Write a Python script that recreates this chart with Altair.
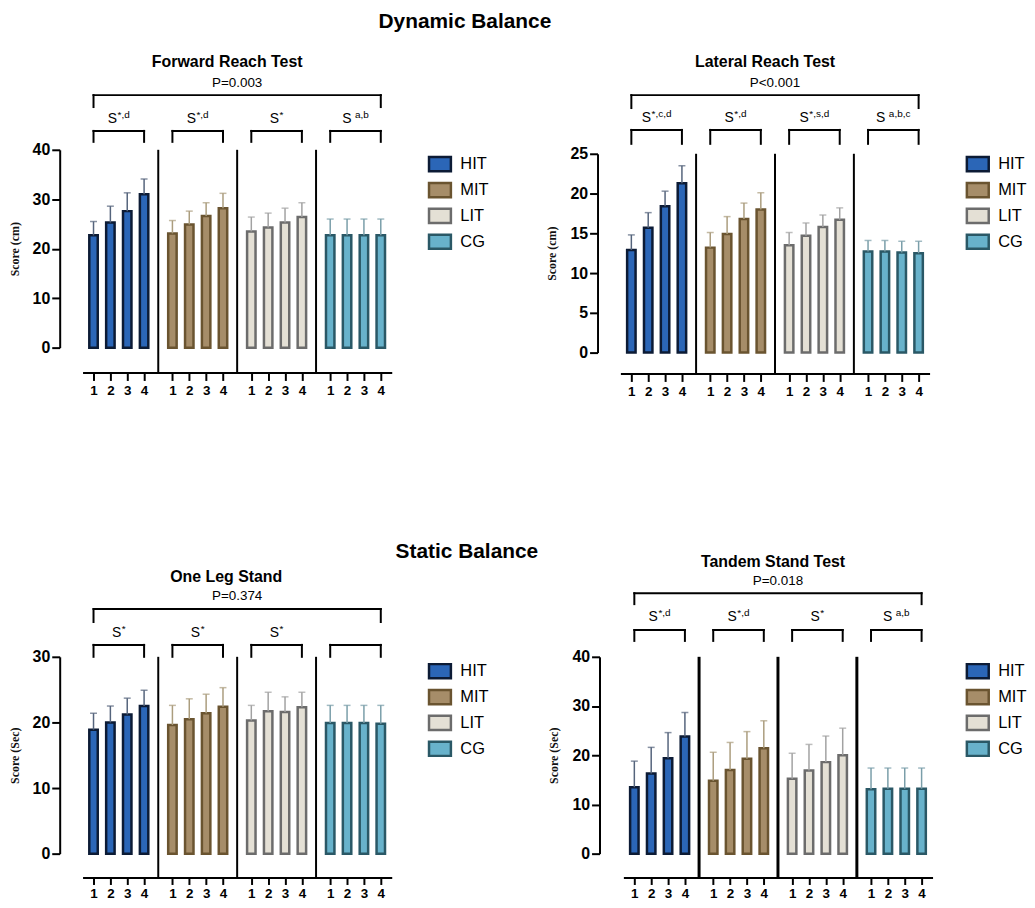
import altair as alt
import pandas as pd

GROUPS = ["HIT", "MIT", "LIT", "CG"]
TIMES = ["1", "2", "3", "4"]
FILL_COLORS = ["#2b66b7", "#a68d69", "#e4e0d5", "#68b2cb"]
STROKE_COLORS = ["#0c1b35", "#6a5430", "#6c6c6c", "#2a5866"]
ERR_COLORS = ["#55647c", "#ab9d7e", "#a2a2a2", "#7a9ea9"]

HEADINGS = ["Dynamic Balance", "Static Balance"]
TITLES = ["Forward Reach Test", "Lateral Reach Test", "One Leg Stand", "Tandem Stand Test"]
P_TEXTS = ["P=0.003", "P<0.001", "P=0.374", "P=0.018"]
Y_TITLES = ["Score (cm)", "Score (cm)", "Score (Sec)", "Score (Sec)"]
Y_MAX = [40, 25, 30, 40]
Y_STEP = [10, 5, 10, 10]

# superscripts of the "S" labels above each group (None = no label)
FRT_SUP = ["*,d", "*,d", "*", "a,b"]
LRT_SUP = ["*,c,d", "*,d", "*,s,d", "a,b,c"]
OLS_SUP = ["*", "*", "*", None]
TST_SUP = ["*,d", "*,d", "*", "a,b"]

# means (rows: HIT, MIT, LIT, CG; columns: times 1-4) and upper whisker ends
FRT_MEAN = [[22.7, 25.3, 27.6, 31.0], [23.1, 24.9, 26.6, 28.2],
            [23.5, 24.3, 25.3, 26.4], [22.7, 22.7, 22.7, 22.7]]
FRT_UPPER = [[25.5, 28.6, 31.3, 34.1], [25.7, 27.6, 29.3, 31.2],
             [26.4, 27.2, 28.2, 29.3], [26.0, 26.0, 26.0, 26.0]]
LRT_MEAN = [[12.9, 15.7, 18.4, 21.3], [13.2, 14.9, 16.8, 18.0],
            [13.5, 14.7, 15.8, 16.7], [12.7, 12.7, 12.6, 12.5]]
LRT_UPPER = [[14.8, 17.6, 20.3, 23.5], [15.1, 17.1, 18.8, 20.1],
             [15.1, 16.3, 17.3, 18.2], [14.1, 14.1, 14.0, 14.0]]
OLS_MEAN = [[18.9, 20.0, 21.2, 22.5], [19.6, 20.5, 21.4, 22.4],
            [20.3, 21.7, 21.6, 22.3], [19.9, 19.9, 19.9, 19.8]]
OLS_UPPER = [[21.4, 22.5, 23.7, 24.9], [22.6, 23.6, 24.3, 25.3],
             [22.6, 24.6, 23.9, 24.6], [22.6, 22.6, 22.6, 22.6]]
TST_MEAN = [[13.5, 16.3, 19.4, 23.8], [14.8, 17.0, 19.3, 21.4],
            [15.2, 16.9, 18.6, 20.0], [13.1, 13.2, 13.2, 13.2]]
TST_UPPER = [[18.8, 21.6, 24.6, 28.7], [20.6, 22.6, 24.8, 27.0],
             [20.4, 22.2, 23.9, 25.5], [17.4, 17.4, 17.4, 17.4]]

FONT = "Liberation Sans"
STEP = 4.68            # distance between groups, in bar slots
W = 311
XDOM = [-0.65, 3 * STEP + 3 + 0.65]
PPU = W / (XDOM[1] - XDOM[0])

# per-panel layout (pixel offsets from the top of the plot area)
LAYOUTS = [
    dict(h=199, inset=0, xoff=25, yoff=23, sepw=2, tick=8, lpad=3, legx=W + 36,
         title=-88, tdx=-10, p=-67, big=-55, bigleg=-43, lab=-31, small=-19, smallleg=-8),
    dict(h=204, inset=4, xoff=21, yoff=23, sepw=2, tick=8, lpad=3, legx=W + 36,
         title=-88, tdx=-10, p=-67, big=-55, bigleg=-42, lab=-32, small=-20, smallleg=-6),
    dict(h=198, inset=0, xoff=24, yoff=23, sepw=2, tick=7, lpad=2, legx=W + 36,
         title=-80, tdx=-11, p=-61, big=-48, bigleg=-35, lab=-24, small=-12, smallleg=0),
    dict(h=198, inset=0, xoff=24, yoff=24, sepw=3, tick=7, lpad=2, legx=W + 33,
         title=-95, tdx=-5, p=-76, big=-64, bigleg=-53, lab=-40, small=-27, smallleg=-16),
]

CHAR_W = {"*": 0.39, ",": 0.28, "a": 0.56, "b": 0.56, "c": 0.5, "d": 0.56, "s": 0.5}
S_SIZE = 14
SUP_SIZE = 10


def xpos(gi, ti):
    return gi * STEP + ti


def px_to_x(px):
    return XDOM[0] + px / PPU


def make_panel(idx, mean, upper, sups):
    lay = LAYOUTS[idx]
    ymax = Y_MAX[idx]
    H = lay["h"]
    inset = lay["inset"]

    def py(p):
        return (H - p) * ymax / (H - inset)

    rows = []
    for gi, g in enumerate(GROUPS):
        for ti, t in enumerate(TIMES):
            rows.append(dict(group=g, time=t, pos=xpos(gi, ti), mean=mean[gi][ti],
                             upper=upper[gi][ti], ecol=ERR_COLORS[gi]))
    df = pd.DataFrame(rows)

    xs = alt.Scale(domain=XDOM, nice=False, zero=False, padding=0)
    ys = alt.Scale(domain=[0, ymax], nice=False, padding=0, range=[H, inset])
    xaxis = alt.Axis(
        values=[xpos(g, t) for g in range(4) for t in range(4)],
        labelExpr=f"round(datum.value - floor((datum.value + 0.5) / {STEP}) * {STEP}) + 1",
        offset=lay["xoff"], domainWidth=2, domainColor="black", ticks=True, tickWidth=2,
        tickColor="black", tickSize=lay["tick"], labelFont=FONT, labelFontSize=13.5,
        labelFontWeight="bold", labelColor="black", labelPadding=lay["lpad"],
        labelFlush=False, labelOverlap=False, labelBound=False, grid=False, title=None)
    yaxis = alt.Axis(
        values=list(range(0, ymax + 1, Y_STEP[idx])), offset=lay["yoff"],
        domainWidth=2, domainColor="black", tickWidth=2, tickColor="black",
        tickSize=8, labelFont=FONT, labelFontSize=16, labelFontWeight="bold",
        labelColor="black", labelPadding=2, labelOverlap=False, labelFlush=False,
        grid=False, title=Y_TITLES[idx],
        titleFont="Liberation Serif", titleFontSize=12, titleFontWeight="bold",
        titleColor="#111111", titlePadding=11)
    legend = alt.Legend(
        title=None, orient="none", legendX=lay["legx"], legendY=2, padding=0,
        symbolType="M-1,-0.65L1,-0.65L1,0.65L-1,0.65Z", symbolSize=484,
        symbolStrokeWidth=2.5, labelFont=FONT, labelFontSize=16.5,
        labelColor="black", labelOffset=8, rowPadding=1)

    def X(field):
        return alt.X(field, scale=xs, axis=xaxis)

    def Y(field):
        return alt.Y(field, scale=ys, axis=yaxis)

    bars = alt.Chart(df).mark_bar(orient="vertical", size=8.5, strokeWidth=2.5).encode(
        x=X("pos:Q"),
        y=Y("mean:Q"),
        fill=alt.Fill("group:N", scale=alt.Scale(domain=GROUPS, range=FILL_COLORS), legend=legend),
        stroke=alt.Stroke("group:N", scale=alt.Scale(domain=GROUPS, range=STROKE_COLORS), legend=legend),
    )
    whisk = alt.Chart(df).mark_rule(strokeWidth=1.5).encode(
        x=X("pos:Q"), y=Y("mean:Q"), y2="upper:Q",
        color=alt.Color("ecol:N", scale=None))
    caps = alt.Chart(df).mark_tick(orient="horizontal", size=7, thickness=1.5).encode(
        x=X("pos:Q"), y=Y("upper:Q"),
        color=alt.Color("ecol:N", scale=None))

    sep_df = pd.DataFrame({
        "pos": [gi * STEP + 3 + (STEP - 3) / 2 for gi in range(3)],
        "top": [ymax] * 3,
        "bot": [py(H + lay["xoff"])] * 3,
    })
    seps = alt.Chart(sep_df).mark_rule(color="black", strokeWidth=lay["sepw"]).encode(
        x=X("pos:Q"), y=Y("top:Q"), y2="bot:Q")

    segs = []
    x0, x1 = xpos(0, 0), xpos(3, 3)
    segs.append(dict(x=x0, x2=x1, y=py(lay["big"]), y2=py(lay["big"])))
    segs.append(dict(x=x0, x2=x0, y=py(lay["big"]), y2=py(lay["bigleg"])))
    segs.append(dict(x=x1, x2=x1, y=py(lay["big"]), y2=py(lay["bigleg"])))
    for gi in range(4):
        a, b = xpos(gi, 0), xpos(gi, 3)
        segs.append(dict(x=a, x2=b, y=py(lay["small"]), y2=py(lay["small"])))
        segs.append(dict(x=a, x2=a, y=py(lay["small"]), y2=py(lay["smallleg"])))
        segs.append(dict(x=b, x2=b, y=py(lay["small"]), y2=py(lay["smallleg"])))
    seg_df = pd.DataFrame(segs)
    brackets = alt.Chart(seg_df).mark_rule(color="black", strokeWidth=2, strokeCap="square").encode(
        x=X("x:Q"), x2="x2:Q", y=Y("y:Q"), y2="y2:Q")

    s_rows, sup_rows = [], []
    for gi, sup in enumerate(sups):
        if sup is None:
            continue
        center = xpos(gi, 1.5)
        s_w = S_SIZE * 0.667
        gap = 3.5 if sup[0].isalpha() else 0.5
        sup_w = sum(CHAR_W.get(c, 0.5) for c in sup) * SUP_SIZE
        total = s_w + gap + sup_w
        left = center - total / 2 / PPU
        s_rows.append(dict(x=left, y=py(lay["lab"]), t="S"))
        sup_rows.append(dict(x=left + (s_w + gap) / PPU, y=py(lay["lab"] - 4), t=sup))
    s_text = alt.Chart(pd.DataFrame(s_rows)).mark_text(
        align="left", baseline="middle", font=FONT, fontSize=S_SIZE, color="black").encode(
        x=X("x:Q"), y=Y("y:Q"), text="t:N")
    sup_text = alt.Chart(pd.DataFrame(sup_rows)).mark_text(
        align="left", baseline="middle", font=FONT, fontSize=SUP_SIZE, color="black").encode(
        x=X("x:Q"), y=Y("y:Q"), text="t:N")

    title_df = pd.DataFrame({"x": [px_to_x(W / 2 + lay["tdx"])], "y": [py(lay["title"])],
                             "t": [TITLES[idx]]})
    title = alt.Chart(title_df).mark_text(
        align="center", baseline="middle", font=FONT, fontSize=16, fontWeight="bold",
        color="black").encode(x=X("x:Q"), y=Y("y:Q"), text="t:N")
    p_df = pd.DataFrame({"x": [px_to_x(W / 2)], "y": [py(lay["p"])], "t": [P_TEXTS[idx]]})
    ptext = alt.Chart(p_df).mark_text(
        align="center", baseline="middle", font=FONT, fontSize=13.5, color="black").encode(
        x=X("x:Q"), y=Y("y:Q"), text="t:N")

    layers = [bars, whisk, caps, seps, brackets, s_text, sup_text, title, ptext]
    return alt.layer(*layers).properties(width=W, height=H)


tl = make_panel(0, FRT_MEAN, FRT_UPPER, FRT_SUP)
tr = make_panel(1, LRT_MEAN, LRT_UPPER, LRT_SUP)
bl = make_panel(2, OLS_MEAN, OLS_UPPER, OLS_SUP)
br = make_panel(3, TST_MEAN, TST_UPPER, TST_SUP)


def heading(text, dx, offset):
    return alt.Title(text, anchor="middle", dx=dx, offset=offset, font=FONT,
                     fontSize=21, fontWeight="bold", color="black")


ind = dict(fill="independent", stroke="independent", x="independent", y="independent")
row1 = alt.hconcat(tl, tr, spacing=57).resolve_scale(**ind).properties(
    title=heading(HEADINGS[0], -53, 23))
row2 = alt.hconcat(bl, br, spacing=59).resolve_scale(**ind).properties(
    title=heading(HEADINGS[1], -51, -8))
chart = alt.vconcat(row1, row2, spacing=144).resolve_scale(**ind).properties(
    padding={"left": 0, "top": 0, "right": 0, "bottom": 0},
    background="white",
).configure_view(stroke=None).configure_axis(labelOverlap=False)

chart.save("out.html", embed_options={"renderer": "svg", "actions": False})
